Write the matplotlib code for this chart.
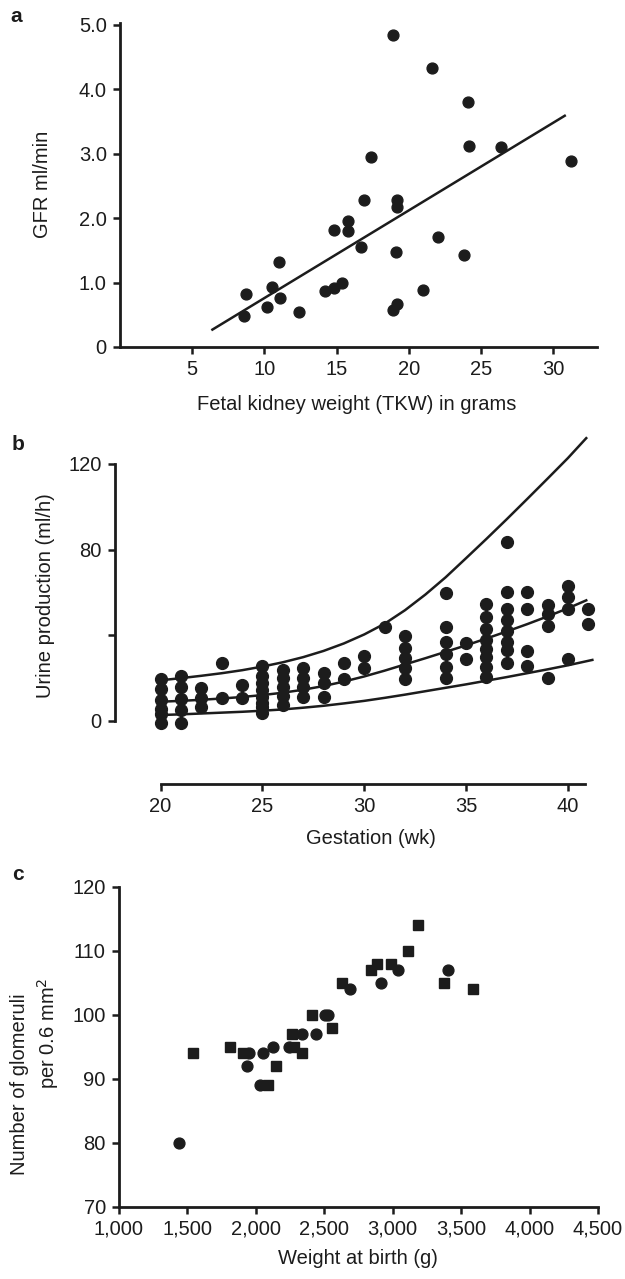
import matplotlib
matplotlib.use("Agg")
import matplotlib.pyplot as plt
from matplotlib.ticker import FuncFormatter

plt.rcParams['font.family'] = ['Liberation Sans', 'DejaVu Sans']

# ---- panel a: GFR vs fetal kidney weight
tkw = [8.7, 8.6, 10.2, 10.5, 11.1, 11.0, 12.4, 14.2, 14.8, 15.4, 14.8, 15.8, 15.8, 16.7, 16.9,
       17.4, 18.9, 19.2, 19.2, 19.1, 18.9, 19.2, 21.0, 21.6, 22.0, 23.8, 24.1, 24.2, 26.4, 31.2]
gfr = [0.82, 0.48, 0.62, 0.93, 0.76, 1.32, 0.54, 0.87, 0.91, 1.00, 1.82, 1.96, 1.80, 1.55, 2.28,
       2.95, 4.85, 2.28, 2.17, 1.47, 0.57, 0.66, 0.88, 4.33, 1.71, 1.43, 3.80, 3.12, 3.10, 2.89]
fit_x = [6.4, 30.8]
fit_y = [0.27, 3.59]

# ---- panel b: urine production vs gestation
weeks = [20, 21, 22, 23, 24, 25, 26, 27, 28, 29, 30, 31, 32, 34, 35, 36, 37, 38, 39, 40, 41]
urine = [
    [19.5, 14.8, 9.8, 5.5, 3.3, -0.8],
    [21.0, 15.7, 10.1, 5.1, -0.8],
    [15.6, 10.9, 6.4],
    [27.2, 10.6],
    [16.8, 10.6],
    [25.7, 21.0, 17.6, 14.5, 11.4, 8.6, 6.4, 3.9],
    [23.8, 19.9, 16.0, 11.7, 7.5],
    [24.6, 19.9, 16.0, 11.4],
    [22.6, 17.6, 11.4],
    [27.2, 19.5],
    [30.5, 24.9],
    [44.0],
    [39.7, 34.2, 29.3, 24.6, 19.6],
    [59.8, 43.7, 36.8, 31.2, 25.1, 20.0],
    [36.3, 29.1],
    [54.4, 48.7, 42.8, 37.8, 33.5, 29.8, 25.4, 20.7],
    [83.4, 60.3, 52.4, 47.0, 42.0, 37.0, 33.1, 27.2],
    [60.1, 52.1, 32.8, 25.7],
    [54.3, 49.8, 44.2, 19.9],
    [63.2, 57.7, 52.1, 28.8],
    [52.3, 45.1],
]
curve_wk = [20, 21, 22, 23, 24, 25, 26, 27, 28, 29, 30, 31, 32, 33, 34, 35, 36, 37, 38, 39, 40, 40.9]
upper = [19.0, 20.0, 21.1, 22.3, 23.7, 25.4, 27.4, 29.8, 32.7, 36.2, 40.4, 45.4, 51.7, 59.0,
         67.1, 76.0, 85.0, 94.2, 103.6, 113.1, 122.7, 132.0]
middle = [9.0, 9.4, 9.9, 10.5, 11.2, 12.1, 13.2, 14.6, 16.3, 18.4, 20.8, 23.5, 26.4, 29.3,
          32.3, 35.3, 38.5, 41.8, 45.2, 48.8, 52.6, 56.3]
lower_wk = [20, 21, 22, 23, 24, 25, 26, 27, 28, 29, 30, 31, 32, 33, 34, 35, 36, 37, 38, 39, 40, 41.2]
lower = [2.8, 3.1, 3.5, 3.9, 4.3, 4.8, 5.4, 6.2, 7.1, 8.2, 9.4, 10.8, 12.3, 13.9, 15.5, 17.1,
         18.8, 20.5, 22.3, 24.1, 26.0, 28.5]

# ---- panel c: glomeruli vs birth weight
circ_w = [1438, 1949, 1935, 2055, 2125, 2032, 2240, 2340, 2437, 2505, 2528, 2685, 2915, 3035, 3405]
circ_n = [80, 94, 92, 94, 95, 89, 95, 97, 97, 100, 100, 104, 105, 107, 107]
sq_w = [1540, 1810, 1906, 2092, 2150, 2282, 2262, 2335, 2408, 2554, 2630, 2842, 2885, 2985,
        3112, 3185, 3372, 3590]
sq_n = [94, 95, 94, 89, 92, 95, 97, 94, 100, 98, 105, 107, 108, 108, 110, 114, 105, 104]

W, H = 625, 1279
fig = plt.figure(figsize=(W / 100, H / 100), dpi=100)
ink = '#1c1c1c'
fs = 14.5


def px_axes(left, top, right, bottom):
    return fig.add_axes([left / W, 1 - bottom / H, (right - left) / W, (bottom - top) / H])


def px_text(x, y, s, **kw):
    fig.text(x / W, 1 - y / H, s, ha='center', va='center', color=ink, **kw)


def style(ax):
    for side in ['top', 'right']:
        ax.spines[side].set_visible(False)
    for side in ['left', 'bottom']:
        ax.spines[side].set_linewidth(2.0)
        ax.spines[side].set_color(ink)
    ax.tick_params(direction='out', length=5, width=1.8, pad=4.5, labelsize=fs,
                   colors=ink)


# panel a
ax1 = px_axes(120, 23, 596.5, 347)
ax1.plot(tkw, gfr, 'o', ms=7.8, color=ink)
ax1.plot(fit_x, fit_y, '-', lw=1.8, color=ink)
ax1.set_xlim(0, 33)
ax1.set_ylim(0, 5.03)
ax1.set_xticks([5, 10, 15, 20, 25, 30])
ax1.set_yticks([0, 1, 2, 3, 4, 5])
ax1.set_yticklabels(['0', '1.0', '2.0', '3.0', '4.0', '5.0'])
style(ax1)
px_text(357, 405, 'Fetal kidney weight (TKW) in grams', fontsize=fs)
px_text(43, 184, 'GFR ml/min', fontsize=fs, rotation=90)
px_text(16, 17, 'a', fontsize=15, fontweight='bold')

# panel b
ax2 = px_axes(115, 436, 600.5, 784)
for wk, vals in zip(weeks, urine):
    ax2.plot([wk] * len(vals), vals, 'o', ms=8.5, color=ink)
ax2.plot(curve_wk, upper, '-', lw=1.8, color=ink)
ax2.plot(curve_wk, middle, '-', lw=1.8, color=ink)
ax2.plot(lower_wk, lower, '-', lw=1.8, color=ink)
ax2.set_xlim(17.76, 41.6)
ax2.set_ylim(-29.4, 133)
ax2.spines['left'].set_bounds(0, 120)
ax2.spines['bottom'].set_bounds(20, 40.85)
ax2.set_xticks([20, 25, 30, 35, 40])
ax2.set_yticks([0, 40, 80, 120])
ax2.set_yticklabels(['0', '', '80', '120'])
style(ax2)
px_text(371, 838, 'Gestation (wk)', fontsize=fs)
px_text(46, 596, 'Urine production (ml/h)', fontsize=fs, rotation=90)
px_text(18, 445, 'b', fontsize=15, fontweight='bold')

# panel c
ax3 = px_axes(119, 886.7, 598, 1206.7)
ax3.plot(circ_w, circ_n, 'o', ms=7.8, color=ink)
ax3.plot(sq_w, sq_n, 's', ms=7.2, color=ink)
ax3.set_xlim(1000, 4500)
ax3.set_ylim(70, 120)
ax3.set_xticks(range(1000, 4501, 500))
ax3.set_yticks(range(70, 121, 10))
ax3.xaxis.set_major_formatter(FuncFormatter(lambda v, p: f'{int(v):,}'))
style(ax3)
px_text(358, 1258, 'Weight at birth (g)', fontsize=fs)
px_text(20, 1084, 'Number of glomeruli', fontsize=fs, rotation=90)
px_text(48, 1033, 'per 0.6 mm$^2$', fontsize=fs, rotation=90)
px_text(18, 875, 'c', fontsize=15, fontweight='bold')

fig.savefig('out.png', dpi=100)
